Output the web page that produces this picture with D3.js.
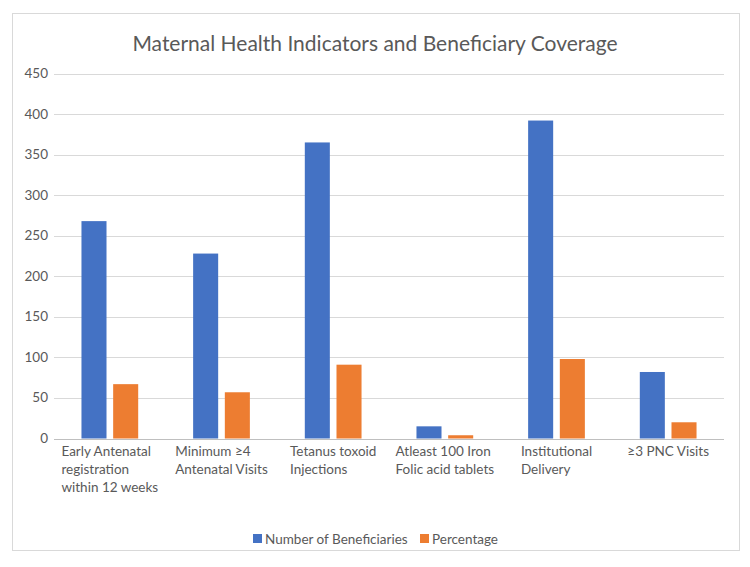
<!DOCTYPE html>
<html>
<head>
<meta charset="utf-8">
<script src="https://cdn.jsdelivr.net/npm/d3@7"></script>
<style>
  body { margin: 0; background: #fff; }
  text { font-family: Lato, "Open Sans", sans-serif; fill: #595959; }
</style>
</head>
<body>
<div id="container"></div>
<script>
/**
 * CONSTANTS AND DATA
 * */
const width = 750,
  height = 567,
  margin = {top: 73.5, bottom: 128.5, left: 54, right: 26};

const categories = [
  ["Early Antenatal", "registration", "within 12 weeks"],
  ["Minimum \u22654", "Antenatal Visits"],
  ["Tetanus toxoid", "Injections"],
  ["Atleast 100 Iron", "Folic acid tablets"],
  ["Institutional", "Delivery"],
  ["\u22653 PNC Visits"]
];
const beneficiaries = [268, 228, 365, 15, 392, 82];
const percentage = [67, 57, 91, 4, 98, 20];
const seriesNames = ["Number of Beneficiaries", "Percentage"];
const colors = ["#4472C4", "#ED7D31"];
const yTicks = [0, 50, 100, 150, 200, 250, 300, 350, 400, 450];

const rows = categories.map((c, i) => ({ label: c, values: [beneficiaries[i], percentage[i]] }));

const svg = d3.select("#container")
  .append("svg")
  .attr("width", width)
  .attr("height", height);

// chart border
svg.append("rect")
  .attr("x", 12.5).attr("y", 13.5)
  .attr("width", 727).attr("height", 537)
  .attr("fill", "#fff")
  .attr("stroke", "#d9d9d9");

svg.append("text")
  .attr("x", 375).attr("y", 51)
  .attr("text-anchor", "middle")
  .style("font-size", "21px")
  .text("Maternal Health Indicators and Beneficiary Coverage");

const x0 = d3.scaleBand()
  .domain(d3.range(categories.length))
  .range([margin.left, width - margin.right])
  .paddingInner(0.492)
  .paddingOuter(0.246);

const x1 = d3.scaleBand()
  .domain([0, 1])
  .range([0, x0.bandwidth()])
  .paddingInner(0.21);

const y = d3.scaleLinear()
  .domain([0, 450])
  .range([height - margin.bottom, margin.top]);

// gridlines
svg.append("g")
  .selectAll("line")
  .data(yTicks.slice(1))
  .join("line")
  .attr("x1", margin.left).attr("x2", width - margin.right)
  .attr("y1", d => Math.round(y(d)) + 0.5).attr("y2", d => Math.round(y(d)) + 0.5)
  .attr("stroke", "#d9d9d9");

// y labels
svg.append("g")
  .selectAll("text")
  .data(yTicks)
  .join("text")
  .attr("x", margin.left - 6)
  .attr("y", d => y(d) + 4.5)
  .attr("text-anchor", "end")
  .style("font-size", "13.5px")
  .text(d => d);

// bars
const groups = svg.append("g")
  .selectAll("g")
  .data(rows)
  .join("g")
  .attr("transform", (d, i) => `translate(${x0(i)},0)`);

groups.selectAll("rect")
  .data(d => d.values)
  .join("rect")
  .attr("x", (d, j) => x1(j))
  .attr("width", x1.bandwidth())
  .attr("y", d => y(d))
  .attr("height", d => y(0) - y(d))
  .attr("fill", (d, j) => colors[j]);

// baseline
svg.append("line")
  .attr("x1", margin.left).attr("x2", width - margin.right)
  .attr("y1", Math.round(y(0)) + 0.5).attr("y2", Math.round(y(0)) + 0.5)
  .attr("stroke", "#bfbfbf");

// category labels, block centred, lines left aligned
rows.forEach((r, i) => {
  const cx = x0(i) + x0.bandwidth() / 2;
  const t = svg.append("text")
    .style("font-size", "13.5px")
    .attr("y", y(0) + 17);
  r.label.forEach((line, k) => {
    t.append("tspan")
      .attr("dy", k === 0 ? 0 : 18)
      .attr("x", 0)
      .text(line);
  });
  const w = d3.max(t.selectAll("tspan").nodes(), n => n.getComputedTextLength());
  t.selectAll("tspan").attr("x", cx - w / 2);
});

// legend
const legend = svg.append("g").attr("transform", "translate(0,539)");
const legendX = [253, 420];
seriesNames.forEach((name, i) => {
  legend.append("rect")
    .attr("x", legendX[i]).attr("y", -5)
    .attr("width", 9).attr("height", 9)
    .attr("fill", colors[i]);
  legend.append("text")
    .attr("x", legendX[i] + 12).attr("y", 4.5)
    .style("font-size", "13.5px")
    .text(name);
});
</script>
</body>
</html>
